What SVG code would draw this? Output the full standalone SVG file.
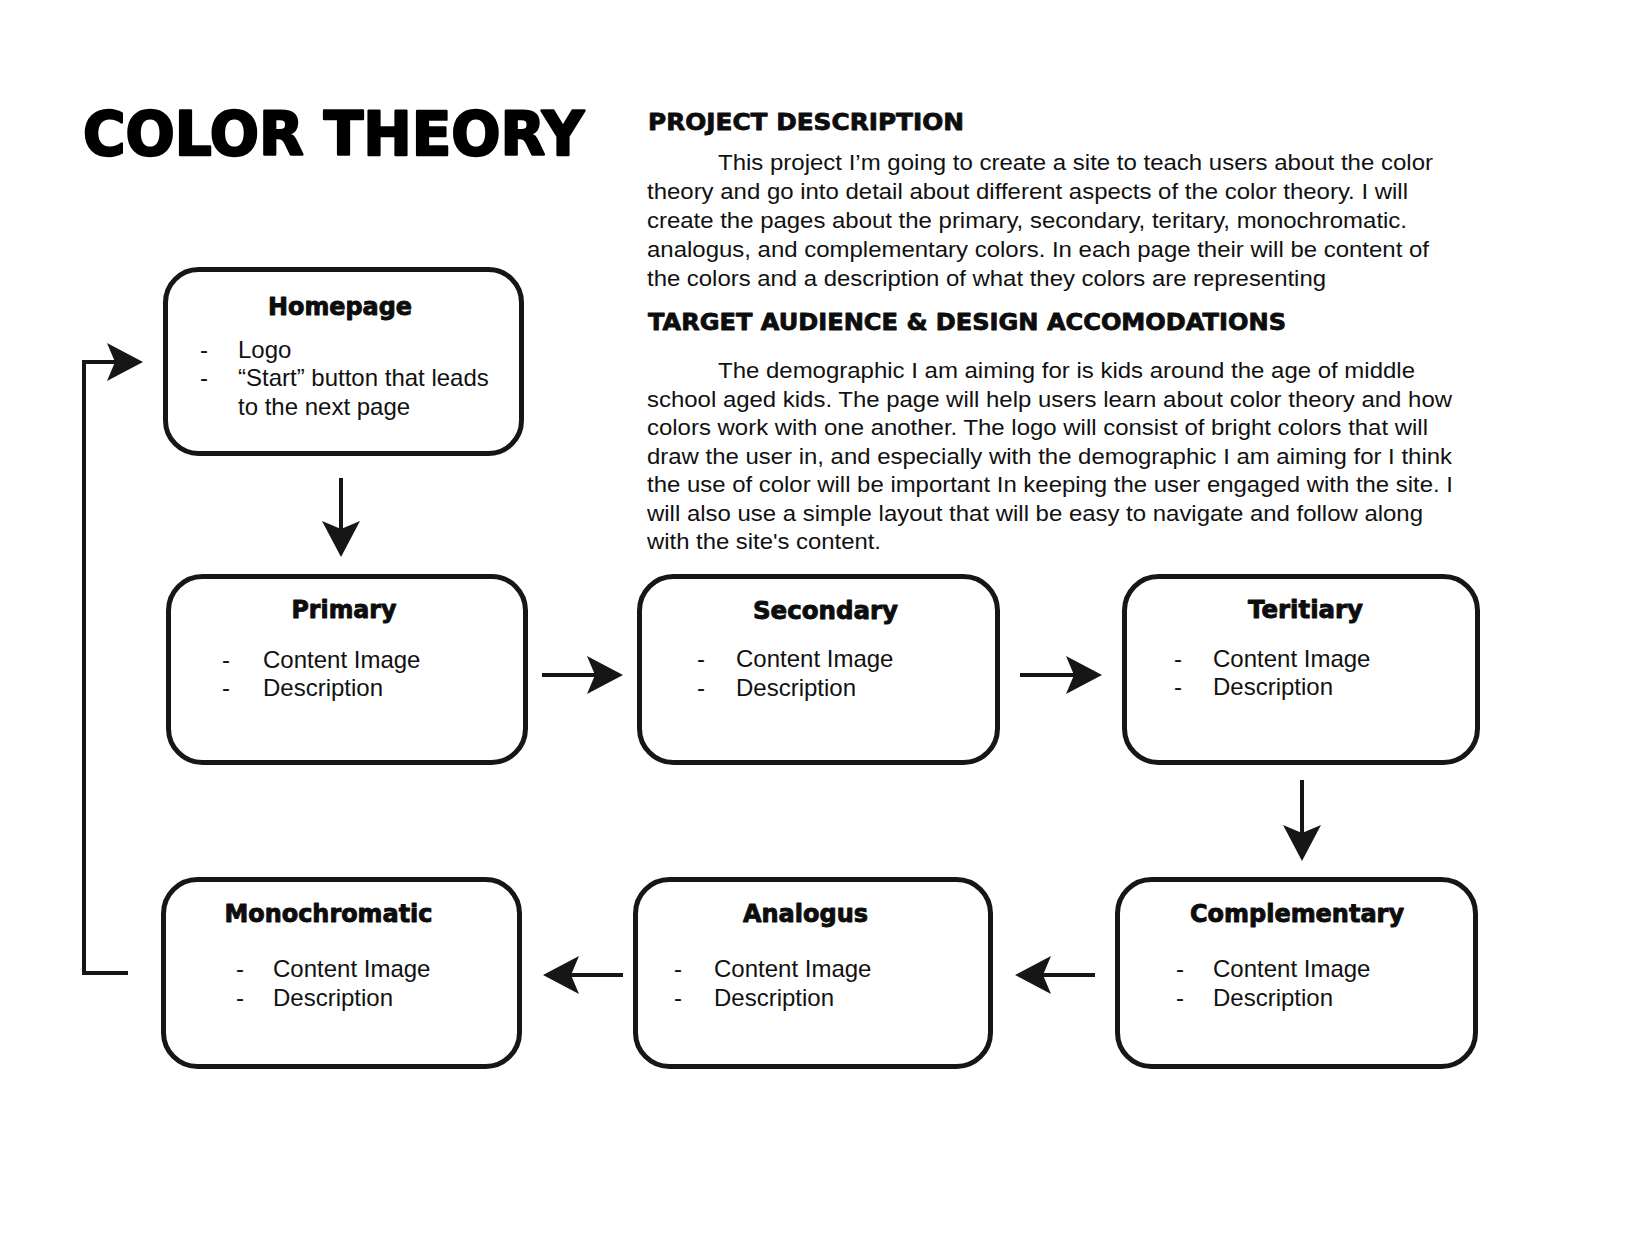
<svg xmlns="http://www.w3.org/2000/svg" width="1626" height="1246" viewBox="0 0 1626 1246">
<defs>
<style>
.bg{fill:#ffffff}
.box{fill:#ffffff;stroke:#161616;stroke-width:5}
.conn{fill:none;stroke:#161616;stroke-width:4}
.ttl{font-family:"DejaVu Sans","Liberation Sans",Arial,sans-serif;font-weight:bold;font-size:24px;fill:#0d0d0d;stroke:#0d0d0d;stroke-width:0.9;stroke-linejoin:round;text-anchor:middle}
.big{font-family:"DejaVu Sans","Liberation Sans",Arial,sans-serif;font-weight:bold;font-size:60px;fill:#000;stroke:#000;stroke-width:2.4;stroke-linejoin:round}
.hd{font-family:"DejaVu Sans","Liberation Sans",Arial,sans-serif;font-weight:bold;font-size:23px;fill:#0d0d0d;stroke:#0d0d0d;stroke-width:0.8;stroke-linejoin:round}
.body{font-family:"Liberation Sans",Arial,sans-serif;font-size:22px;fill:#111}
.item{font-family:"Liberation Sans",Arial,sans-serif;font-size:24px;fill:#111}
</style>
<marker id="ah" markerUnits="userSpaceOnUse" markerWidth="40" markerHeight="40" refX="8" refY="20" orient="auto" overflow="visible">
<path d="M36,20 L0,1 L8,20 L0,39 Z" fill="#161616"/>
</marker>
</defs>
<rect class="bg" x="0" y="0" width="1626" height="1246"/>

<g id="header">
<text class="big" x="83" y="155" textLength="501" lengthAdjust="spacingAndGlyphs">COLOR THEORY</text>
<text class="hd" x="648" y="130" textLength="316" lengthAdjust="spacingAndGlyphs">PROJECT DESCRIPTION</text>
<text class="body" x="718" y="170" textLength="715" lengthAdjust="spacingAndGlyphs">This project I’m going to create a site to teach users about the color</text>
<text class="body" x="647" y="199" textLength="761" lengthAdjust="spacingAndGlyphs">theory and go into detail about different aspects of the color theory. I will</text>
<text class="body" x="647" y="228" textLength="760" lengthAdjust="spacingAndGlyphs">create the pages about the primary, secondary, teritary, monochromatic.</text>
<text class="body" x="647" y="257" textLength="782" lengthAdjust="spacingAndGlyphs">analogus, and complementary colors. In each page their will be content of</text>
<text class="body" x="647" y="286" textLength="679" lengthAdjust="spacingAndGlyphs">the colors and a description of what they colors are representing</text>
<text class="hd" x="648" y="330" textLength="638" lengthAdjust="spacingAndGlyphs">TARGET AUDIENCE &amp; DESIGN ACCOMODATIONS</text>
<text class="body" x="718" y="378" textLength="697" lengthAdjust="spacingAndGlyphs">The demographic I am aiming for is kids around the age of middle</text>
<text class="body" x="647" y="407" textLength="805" lengthAdjust="spacingAndGlyphs">school aged kids. The page will help users learn about color theory and how</text>
<text class="body" x="647" y="435" textLength="781" lengthAdjust="spacingAndGlyphs">colors work with one another. The logo will consist of bright colors that will</text>
<text class="body" x="647" y="464" textLength="805" lengthAdjust="spacingAndGlyphs">draw the user in, and especially with the demographic I am aiming for I think</text>
<text class="body" x="647" y="492" textLength="806" lengthAdjust="spacingAndGlyphs">the use of color will be important In keeping the user engaged with the site. I</text>
<text class="body" x="647" y="521" textLength="776" lengthAdjust="spacingAndGlyphs">will also use a simple layout that will be easy to navigate and follow along</text>
<text class="body" x="647" y="549" textLength="234" lengthAdjust="spacingAndGlyphs">with the site's content.</text>
</g>

<g id="connectors">
<path class="conn" d="M341,478 L341,529" marker-end="url(#ah)"/>
<path class="conn" d="M542,675 L595,675" marker-end="url(#ah)"/>
<path class="conn" d="M1020,675 L1074,675" marker-end="url(#ah)"/>
<path class="conn" d="M1302,780 L1302,833" marker-end="url(#ah)"/>
<path class="conn" d="M1095,975 L1043,975" marker-end="url(#ah)"/>
<path class="conn" d="M623,975 L571,975" marker-end="url(#ah)"/>
<path class="conn" d="M128,973 L84,973 L84,362 L115,362" marker-end="url(#ah)"/>
</g>

<g id="node-homepage">
<rect class="box" x="165.5" y="269.5" width="356" height="184" rx="33"/>
<text class="ttl" x="340" y="315" textLength="144" lengthAdjust="spacingAndGlyphs">Homepage</text>
<text class="item" x="200" y="358">-</text>
<text class="item" x="238" y="358">Logo</text>
<text class="item" x="200" y="386">-</text>
<text class="item" x="238" y="386">“Start” button that leads</text>
<text class="item" x="238" y="415">to the next page</text>
</g>

<g id="node-primary">
<rect class="box" x="168.5" y="576.5" width="357" height="186" rx="34"/>
<text class="ttl" x="344" y="618" textLength="105" lengthAdjust="spacingAndGlyphs">Primary</text>
<text class="item" x="222" y="668">-</text>
<text class="item" x="263" y="668">Content Image</text>
<text class="item" x="222" y="696">-</text>
<text class="item" x="263" y="696">Description</text>
</g>

<g id="node-secondary">
<rect class="box" x="639.5" y="576.5" width="358" height="186" rx="34"/>
<text class="ttl" x="825.5" y="619" textLength="145" lengthAdjust="spacingAndGlyphs">Secondary</text>
<text class="item" x="697" y="667">-</text>
<text class="item" x="736" y="667">Content Image</text>
<text class="item" x="697" y="696">-</text>
<text class="item" x="736" y="696">Description</text>
</g>

<g id="node-teritiary">
<rect class="box" x="1124.5" y="576.5" width="353" height="186" rx="34"/>
<text class="ttl" x="1305.5" y="618" textLength="115" lengthAdjust="spacingAndGlyphs">Teritiary</text>
<text class="item" x="1174" y="667">-</text>
<text class="item" x="1213" y="667">Content Image</text>
<text class="item" x="1174" y="695">-</text>
<text class="item" x="1213" y="695">Description</text>
</g>

<g id="node-complementary">
<rect class="box" x="1117.5" y="879.5" width="358" height="187" rx="34"/>
<text class="ttl" x="1297" y="922" textLength="214" lengthAdjust="spacingAndGlyphs">Complementary</text>
<text class="item" x="1176" y="977">-</text>
<text class="item" x="1213" y="977">Content Image</text>
<text class="item" x="1176" y="1006">-</text>
<text class="item" x="1213" y="1006">Description</text>
</g>

<g id="node-analogus">
<rect class="box" x="635.5" y="879.5" width="355" height="187" rx="34"/>
<text class="ttl" x="805.5" y="922" textLength="125" lengthAdjust="spacingAndGlyphs">Analogus</text>
<text class="item" x="674" y="977">-</text>
<text class="item" x="714" y="977">Content Image</text>
<text class="item" x="674" y="1006">-</text>
<text class="item" x="714" y="1006">Description</text>
</g>

<g id="node-monochromatic">
<rect class="box" x="163.5" y="879.5" width="356" height="187" rx="34"/>
<text class="ttl" x="328.5" y="922" textLength="208" lengthAdjust="spacingAndGlyphs">Monochromatic</text>
<text class="item" x="236" y="977">-</text>
<text class="item" x="273" y="977">Content Image</text>
<text class="item" x="236" y="1006">-</text>
<text class="item" x="273" y="1006">Description</text>
</g>
</svg>
